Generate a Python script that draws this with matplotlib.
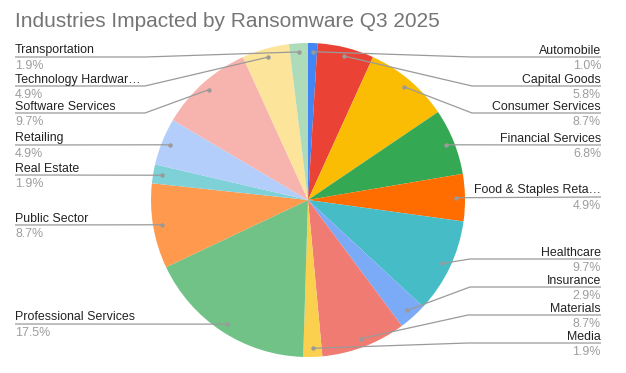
import numpy as np
import matplotlib
matplotlib.use("Agg")
import matplotlib.pyplot as plt

# data: incident counts per industry (percentages shown are count / total)
industries = [
    "Automobile", "Capital Goods", "Consumer Services", "Financial Services",
    "Food & Staples Reta…", "Healthcare", "Insurance", "Materials", "Media",
    "Professional Services", "Public Sector", "Real Estate", "Retailing",
    "Software Services", "Technology Hardwar…", "Transportation",
]
counts = [1, 6, 9, 7, 5, 10, 3, 9, 2, 18, 9, 2, 5, 10, 5, 2]
colors = [
    "#4285f4", "#ea4335", "#fbbc04", "#34a853", "#ff6d01", "#46bdc6",
    "#7baaf7", "#f07b72", "#fcd04f", "#71c287", "#ff994d", "#7ed1d7",
    "#b3cefb", "#f7b4ae", "#fde49b", "#aedcba",
]
title = "Industries Impacted by Ransomware Q3 2025"

# label layout, in pixels from the top-left corner: (side, underline y, elbow x)
layout = {
    "Automobile": ("R", 57, 472),
    "Capital Goods": ("R", 86, 472),
    "Consumer Services": ("R", 113, 472),
    "Financial Services": ("R", 145, None),
    "Food & Staples Reta…": ("R", 197, None),
    "Healthcare": ("R", 259, 470),
    "Insurance": ("R", 287, 470),
    "Materials": ("R", 315, 468),
    "Media": ("R", 343, 468),
    "Professional Services": ("L", 324, None),
    "Public Sector": ("L", 225, None),
    "Real Estate": ("L", 175, None),
    "Retailing": ("L", 145, None),
    "Software Services": ("L", 113, 145),
    "Technology Hardwar…": ("L", 86, 145),
    "Transportation": ("L", 57, 145),
}

W, H = 626, 373
CX, CY, R = 308, 200, 157
LEFT_X, RIGHT_X = 15, 601
FONT = "Liberation Sans"
LINE_C = "#9a9a9a"


def py(y):
    # pixel row (from top) -> data y
    return H - y


fig = plt.figure(figsize=(W / 100, H / 100), dpi=100)
ax = fig.add_axes([0, 0, 1, 1])

ax.pie(counts, colors=colors, startangle=90, counterclock=False,
       center=(CX, py(CY)), radius=R, wedgeprops=dict(linewidth=0))

ax.set_xlim(0, W)
ax.set_ylim(0, H)
ax.set_aspect("auto")
ax.axis("off")

total = sum(counts)
cum = np.cumsum([0] + counts[:-1])
for name, c, start in zip(industries, counts, cum):
    theta = np.deg2rad(90 - 360 * (start + c / 2) / total)
    dx = CX + 0.945 * R * np.cos(theta)
    dy = py(CY) + 0.945 * R * np.sin(theta)

    side, ly, ex = layout[name]
    end_x = LEFT_X if side == "L" else RIGHT_X
    xs, ys = [dx], [dy]
    if ex is not None:
        xs.append(ex)
        ys.append(py(ly))
    xs.append(end_x)
    ys.append(py(ly))
    ax.plot(xs, ys, color=LINE_C, lw=0.9, solid_capstyle="butt")
    ax.plot(dx, dy, "o", color=LINE_C, ms=3.2, mec="none")

    ha = "left" if side == "L" else "right"
    ax.text(end_x, py(ly - 3.5), name, ha=ha, va="baseline",
            fontsize=8.9, color="#222222", family=FONT)
    ax.text(end_x, py(ly + 12), f"{100 * c / total:.1f}%", ha=ha,
            va="baseline", fontsize=8.9, color="#9e9e9e", family=FONT)

ax.text(LEFT_X, py(27), title, ha="left", va="baseline",
        fontsize=15, color="#757575", family=FONT)

fig.savefig("out.png", dpi=100)
